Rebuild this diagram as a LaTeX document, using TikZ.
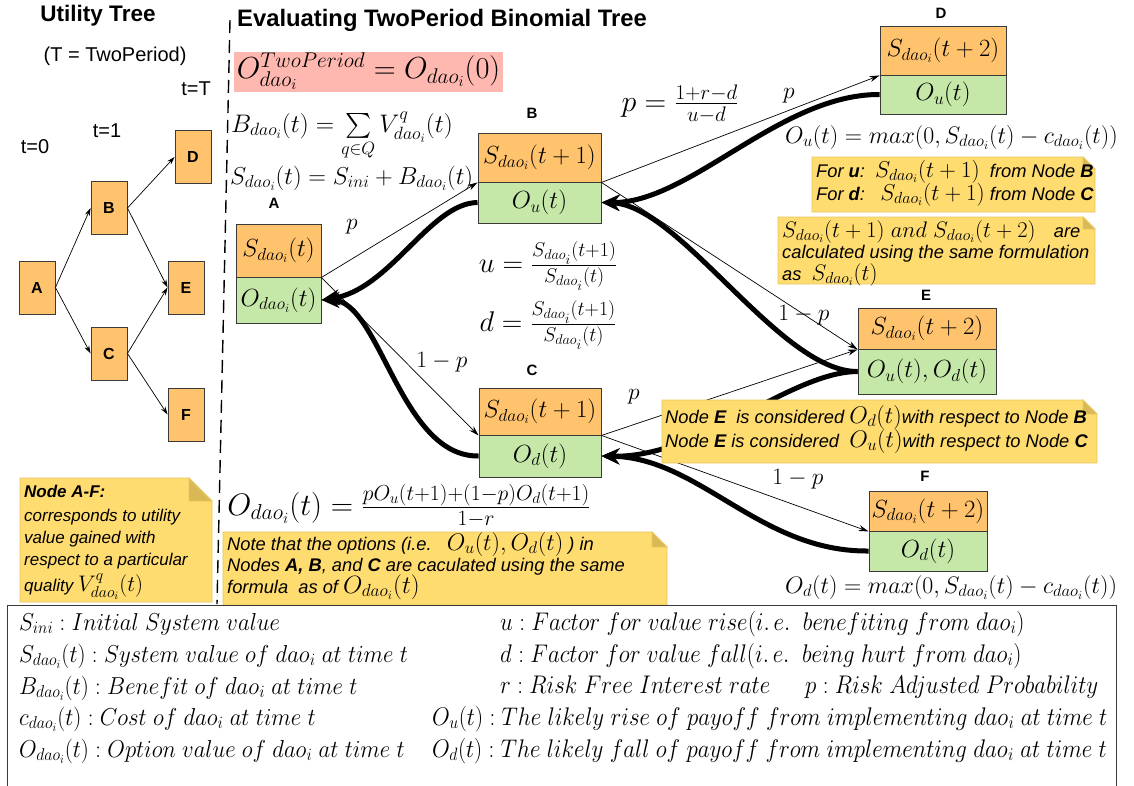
\RequirePackage{fix-cm}
\documentclass[tikz,border=0pt]{standalone}
\usepackage{amsmath}
\usepackage{graphicx}
\usepackage{fontspec}
\setsansfont{Liberation Sans}
\renewcommand\familydefault{\sfdefault}
\usetikzlibrary{arrows.meta}
\definecolor{orng}{HTML}{FFC36E}
\definecolor{grn}{HTML}{C5E8A9}
\definecolor{pnk}{HTML}{FFB8B0}
\definecolor{ylw}{HTML}{FFDC70}
\definecolor{ylwb}{HTML}{E8C860}
\definecolor{ylwd}{HTML}{D9B955}
\definecolor{bord}{HTML}{3A3A3A}
\newcommand\Sd{S_{dao_i}}
\newcommand\Od{O_{dao_i}}
\newcommand\fsz[2]{\fontsize{#1}{#2}\selectfont}
\newcommand\legL[1]{\scalebox{0.93}[1]{$#1$}}
\newcommand\legR[1]{\scalebox{0.9}[1]{$#1$}}
% note background: x1,y1,x2,y2,fold
\newcommand\mynote[5]{%
  \filldraw[fill=ylw,draw=ylwb,line width=0.8pt] (#1,#2) -- ({#3-#5},#2) -- (#3,{#2+#5}) -- (#3,#4) -- (#1,#4) -- cycle;
  \filldraw[fill=ylwd,draw=ylwb,line width=0.8pt] ({#3-#5},#2) -- ({#3-#5},{#2+#5}) -- (#3,{#2+#5}) -- cycle;}
\begin{document}
\begin{tikzpicture}[x=1pt,y=-1pt,
  cellS/.style={draw=bord,fill=orng,line width=0.9pt,inner sep=0pt,font=\fsz{24.8}{28}},
  cellO/.style={draw=bord,fill=grn,line width=0.9pt,inner sep=0pt,font=\fsz{24.8}{28}},
  utbox/.style={draw=bord,fill=orng,line width=0.9pt,minimum width=36pt,minimum height=53pt,inner sep=0pt,font=\sffamily\bfseries\fsz{16}{19}},
  lbl/.style={font=\sffamily\bfseries\fsz{15}{18}},
  thinarr/.style={-{Stealth[length=10pt,width=6pt]},line width=0.7pt},
  utarr/.style={-{Stealth[length=8pt,width=5pt]},line width=0.7pt},
  thickarr/.style={-{Stealth[length=18pt,width=16pt]},line width=5pt},
  mth/.style={inner sep=0pt,font=\fsz{23.5}{27}},
  ntxt/.style={anchor=base west,inner sep=0pt,font=\sffamily\itshape\fsz{18.3}{21}},
  legtxt/.style={anchor=base west,inner sep=0pt,font=\fsz{24.5}{28}},
  legtxtr/.style={anchor=base west,inner sep=0pt,font=\fsz{25.5}{29}},
]
\useasboundingbox (0,0) rectangle (1134,785);
\fill[white] (0,0) rectangle (1134,785);

% ---------- Utility tree ----------
\node[font=\sffamily\bfseries\fsz{22.5}{26}] (uttitle) at (98,16) {Utility Tree};
\node[font=\sffamily\fsz{20}{24}] (utsub) at (115,56) {(T = TwoPeriod)};
\node[font=\sffamily\fsz{20}{24}] (tT) at (196,89) {t=T};
\node[font=\sffamily\fsz{20}{24}] (t1) at (107,131) {t=1};
\node[font=\sffamily\fsz{20}{24}] (t0) at (35,147) {t=0};
\node[utbox] (uA) at (37,287.5) {A};
\node[utbox] (uB) at (109,208) {B};
\node[utbox] (uC) at (109,353.5) {C};
\node[utbox] (uD) at (193,157) {D};
\node[utbox] (uE) at (186,287.5) {E};
\node[utbox] (uF) at (186,414.5) {F};
\draw[utarr] (uA.east) -- (uB.west);
\draw[utarr] (uA.east) -- (uC.west);
\draw[utarr] (uB.east) -- (uD.west);
\draw[utarr] (uB.east) -- (uE.west);
\draw[utarr] (uC.east) -- (uE.west);
\draw[utarr] (uC.east) -- (uF.west);

% dashed separator
\draw[line width=1.4pt,dash pattern=on 13pt off 7pt] (230,20) -- (217,604);

% ---------- Title and formulas ----------
\node[anchor=base west,inner sep=0pt,font=\sffamily\bfseries\fsz{23.8}{27}] (title) at (237,26) {Evaluating TwoPeriod Binomial Tree};
\node[fill=pnk,minimum width=269pt,minimum height=40pt,inner sep=0pt,font=\fsz{30.4}{34}] (pinkf) at (368.5,71.5) {$O^{TwoPeriod}_{dao_i} = O_{dao_i}(0)$};
\node[anchor=base west,inner sep=0pt,font=\fsz{25.4}{29}] (Bform) at (231,132) {$B_{dao_i}(t) = \sum\limits_{q\in Q} V^{q}_{dao_i}(t)$};
\node[anchor=base west,inner sep=0pt,font=\fsz{24.5}{28}] (Sform) at (230,184) {$\Sd(t) = S_{ini} + B_{dao_i}(t)$};
\node[inner sep=0pt,font=\fsz{30}{34}] (pform) at (680,104) {$p = \frac{1+r-d}{u-d}$};
\node[inner sep=0pt,font=\fsz{28.5}{32}] (uform) at (548,266) {$u = \frac{\Sd(t+1)}{\Sd(t)}$};
\node[inner sep=0pt,font=\fsz{28.5}{32}] (dform) at (548,325) {$d = \frac{\Sd(t+1)}{\Sd(t)}$};
\node[inner sep=0pt,font=\fsz{31}{35}] (Oform) at (409,506) {$\Od(t) = \frac{pO_u(t+1)+(1-p)O_d(t+1)}{1-r}$};
\node[anchor=base west,inner sep=0pt,font=\fsz{23.9}{27}] (Ouform) at (785,143) {$O_u(t) = max(0, \Sd(t) - c_{dao_i}(t))$};
\node[anchor=base west,inner sep=0pt,font=\fsz{23.9}{27}] (Odform) at (785,593) {$O_d(t) = max(0, \Sd(t) - c_{dao_i}(t))$};

% ---------- Binomial nodes ----------
\node[lbl] (labA) at (274,203) {A};
\node[cellS,minimum width=85pt,minimum height=53pt] (At) at (278.5,250.5) {$\Sd(t)$};
\node[cellO,minimum width=85pt,minimum height=46pt] (Ab) at (278.5,300) {$\Od(t)$};
\node[lbl] (labB) at (532,113) {B};
\node[cellS,minimum width=123pt,minimum height=49pt] (Bt) at (539.5,157.5) {$\Sd(t+1)$};
\node[cellO,minimum width=123pt,minimum height=41pt] (Bb) at (539.5,202.5) {$O_u(t)$};
\node[lbl] (labC) at (532,370) {C};
\node[cellS,minimum width=122pt,minimum height=47pt] (Ct) at (540,411.5) {$\Sd(t+1)$};
\node[cellO,minimum width=122pt,minimum height=42pt] (Cb) at (540,456) {$O_d(t)$};
\node[lbl] (labD) at (941,13) {D};
\node[cellS,minimum width=126pt,minimum height=49pt] (Dt) at (943,50.5) {$\Sd(t+2)$};
\node[cellO,minimum width=126pt,minimum height=39pt] (Db) at (943,94.5) {$O_u(t)$};
\node[lbl] (labE) at (926,295) {E};
\node[cellS,minimum width=138pt,minimum height=41pt] (Et) at (927,328.5) {$\Sd(t+2)$};
\node[cellO,minimum width=138pt,minimum height=45pt] (Eb) at (927,371.5) {$O_u(t), O_d(t)$};
\node[lbl] (labF) at (925,476) {F};
\node[cellS,minimum width=118pt,minimum height=40pt] (Ft) at (928,511) {$\Sd(t+2)$};
\node[cellO,minimum width=118pt,minimum height=40pt] (Fb) at (928,551) {$O_d(t)$};

% thin forward arrows
\draw[thinarr] (At.south east) -- (Bt.south west);
\draw[thinarr] (At.south east) -- (Ct.south west);
\draw[thinarr] (Bt.south east) -- (Dt.south west);
\draw[thinarr] (Bt.south east) -- (Et.south west);
\draw[thinarr] (Ct.south east) -- (Et.south west);
\draw[thinarr] (Ct.south east) -- (Ft.south west);

% thick backward arrows
\draw[thickarr] (Db.west) .. controls (780,94) and (690,203) .. (Bb.east);
\draw[thickarr] (Eb.west) .. controls (780,372) and (680,205) .. (Bb.east);
\draw[thickarr] (Eb.west) .. controls (790,372) and (700,458) .. (Cb.east);
\draw[thickarr] (Fb.west) .. controls (760,552) and (700,458) .. (Cb.east);
\draw[thickarr] (Bb.west) .. controls (430,203) and (390,290) .. (Ab.east);
\draw[thickarr] (Cb.west) .. controls (400,457) and (380,300) .. (Ab.east);

% probability labels
\node[mth] (pAB) at (352,227) {$p$};
\node[mth] (qAC) at (442,362) {$1-p$};
\node[mth] (pBD) at (789,96) {$p$};
\node[mth] (qBE) at (804,315) {$1-p$};
\node[mth] (pCE) at (634,397) {$p$};
\node[mth] (qCF) at (798,479) {$1-p$};

% ---------- Notes ----------
\mynote{812}{157}{1095}{212}{12}
\node[ntxt] (n1a) at (816,177) {For \textbf{u}:\ \ {\fsz{23}{23}$\Sd(t+1)$}\ \ from Node \textbf{B}};
\node[ntxt] (n1b) at (816,200) {For \textbf{d}:\ \ \ {\fsz{23}{23}$\Sd(t+1)$} from Node \textbf{C}};

\mynote{778}{217}{1095}{284}{12}
\node[ntxt] (n2a) at (782,237) {{\fsz{22.5}{22}$\Sd(t+1)\ and\ \Sd(t+2)$}\quad are};
\node[ntxt] (n2b) at (782,258) {calculated using the same formulation};
\node[ntxt] (n2c) at (782,280) {as\ \ {\fsz{22.5}{22}$\Sd(t)$}};

\mynote{662}{400}{1097}{463}{14}
\node[ntxt] (n3a) at (665,423) {Node \textbf{E}\ \ is considered {\fsz{24}{24}$O_d(t)$}with respect to Node \textbf{B}};
\node[ntxt] (n3b) at (665,447) {Node \textbf{E} is considered\ \ {\fsz{24}{24}$O_u(t)$}with respect to Node \textbf{C}};

\mynote{223}{532}{667}{605}{15}
\node[ntxt] (n4a) at (227,550) {Note that the options (i.e.\ \ \ {\fsz{24}{24}$O_u(t), O_d(t)$}\ ) in};
\node[ntxt] (n4b) at (227,571) {Nodes \textbf{A, B}, and \textbf{C} are caculated using the same};
\node[ntxt] (n4c) at (227,593) {formula\ \ as of {\fsz{25}{25}$\Od(t)$}};

\mynote{20}{478}{212}{602}{23}
\node[ntxt,font=\sffamily\itshape\fsz{17}{20}] (n5a) at (24,497) {\textbf{Node A-F:}};
\node[ntxt,font=\sffamily\itshape\fsz{17}{20}] (n5b) at (24,521) {corresponds to utility};
\node[ntxt,font=\sffamily\itshape\fsz{17}{20}] (n5c) at (24,543) {value gained with};
\node[ntxt,font=\sffamily\itshape\fsz{17}{20}] (n5d) at (24,565) {respect to a particular};
\node[ntxt,font=\sffamily\itshape\fsz{17}{20}] (n5e) at (24,591) {quality {\fsz{22.5}{22}$V^{q}_{dao_i}(t)$}};

% ---------- Legend ----------
\draw[line width=1pt,draw=bord] (7,605) rectangle (1116,800);
\node[legtxt] (l1) at (19,630) {\legL{S_{ini} : Initial\ System\ value}};
\node[legtxt] (l2) at (19,662) {\legL{\Sd(t) : System\ value\ of\ dao_i\ at\ time\ t}};
\node[legtxt] (l3) at (19,694) {\legL{B_{dao_i}(t) : Benefit\ of\ dao_i\ at\ time\ t}};
\node[legtxt] (l4) at (19,725) {\legL{c_{dao_i}(t) : Cost\ of\ dao_i\ at\ time\ t}};
\node[legtxt] (l5) at (19,757) {\legL{\Od(t) : Option\ value\ of\ dao_i\ at\ time\ t}};
\node[legtxtr] (r1) at (500,630) {\legR{u : Factor\ for\ value\ rise(i.\,e.\ \ benefiting\ from\ dao_i)}};
\node[legtxtr] (r2) at (500,662) {\legR{d : Factor\ for\ value\ fall(i.\,e.\ \ being\ hurt\ from\ dao_i)}};
\node[legtxtr] (r3) at (500,693) {\legR{r : Risk\ Free\ Interest\ rate}};
\node[legtxtr] (r4) at (805,693) {\legR{p : Risk\ Adjusted\ Probability}};
\node[legtxtr] (r5) at (432,725) {\legR{O_u(t) : The\ likely\ rise\ of\ payoff\ from\ implementing\ dao_i\ at\ time\ t}};
\node[legtxtr] (r6) at (432,757) {\legR{O_d(t) : The\ likely\ fall\ of\ payoff\ from\ implementing\ dao_i\ at\ time\ t}};
\end{tikzpicture}
\end{document}
